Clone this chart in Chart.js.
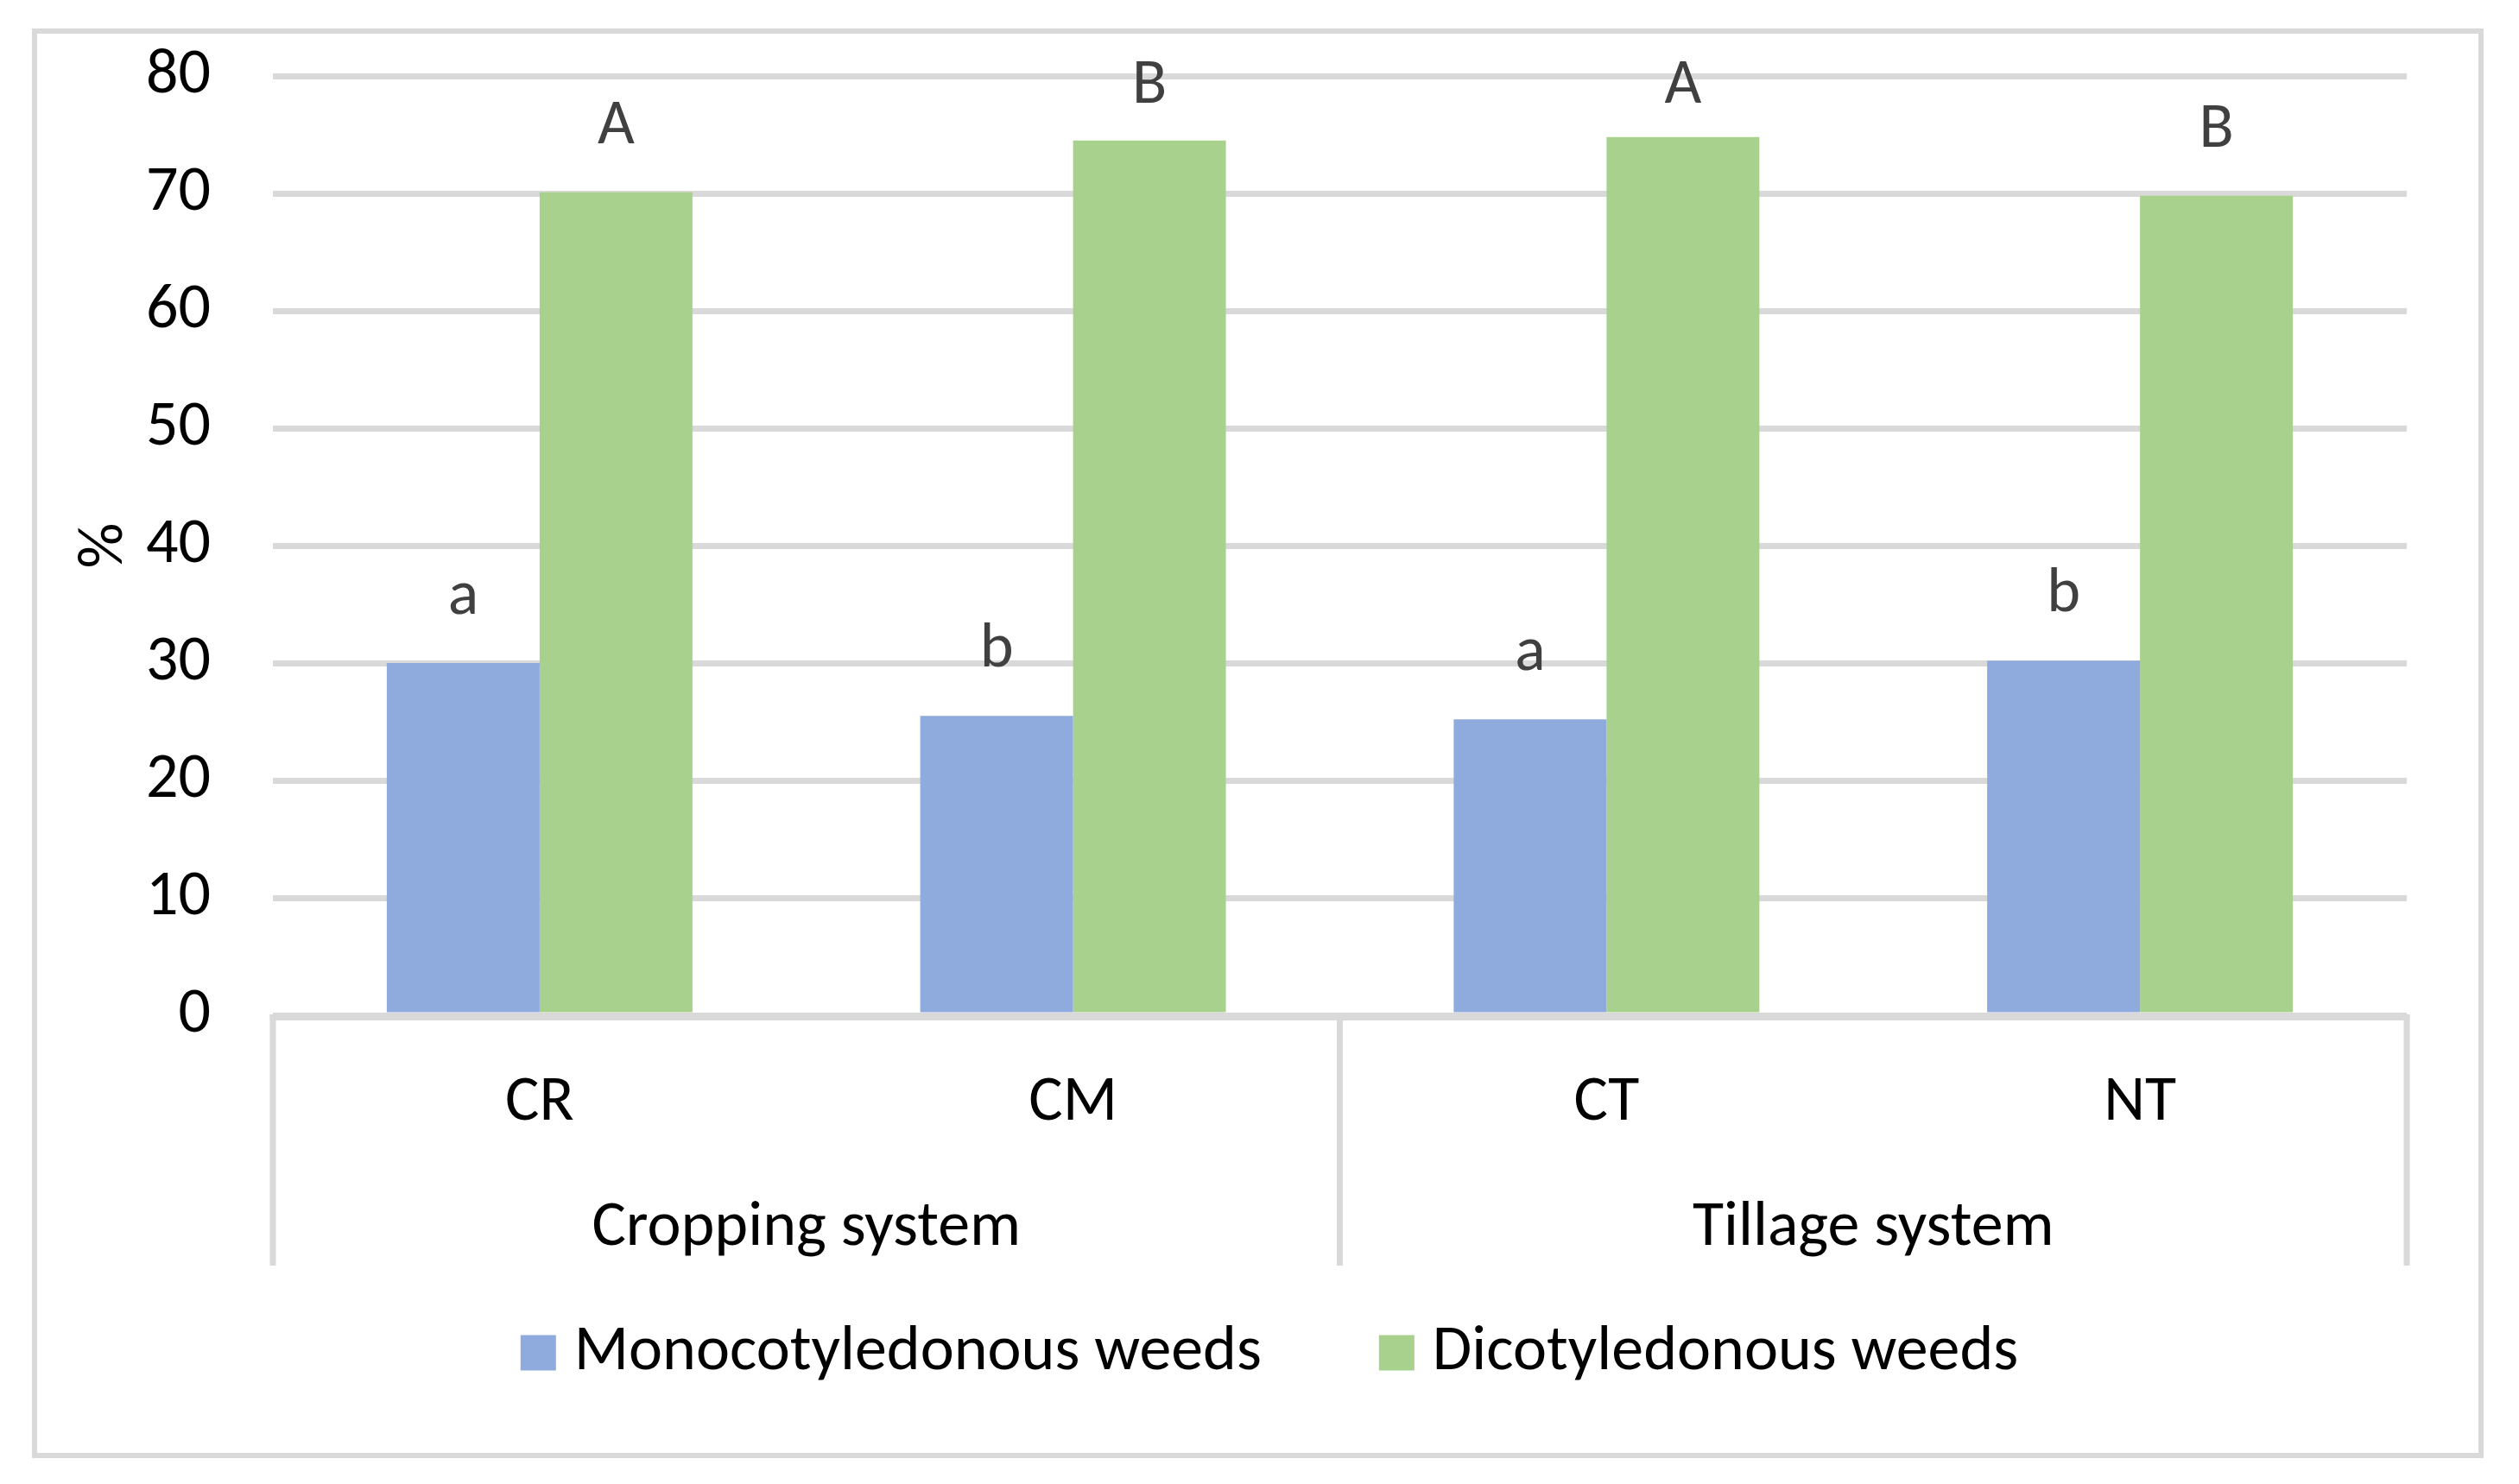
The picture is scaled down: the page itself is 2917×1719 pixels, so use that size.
<!DOCTYPE html>
<html>
<head>
<meta charset="utf-8">
<script src="https://cdn.jsdelivr.net/npm/chart.js@4.4.1/dist/chart.umd.min.js"></script>
<style>
  html, body { margin: 0; padding: 0; background: #ffffff; }
  canvas { display: block; }
</style>
</head>
<body>
<canvas id="c" width="2917" height="1719"></canvas>
<script>
// weed share by cropping / tillage system
var categories = ['CR', 'CM', 'CT', 'NT'];
var groups = ['Cropping system', 'Tillage system'];
var groupSpans = [2, 2];
var monoValues = [30.0, 25.5, 25.2, 30.2];
var dicotValues = [70.1, 74.5, 74.8, 69.8];
var monoLetters = ['a', 'b', 'a', 'b'];
var dicotLetters = ['A', 'B', 'A', 'B'];
var seriesNames = ['Monocotyledonous weeds', 'Dicotyledonous weeds'];
var yTicks = [0, 10, 20, 30, 40, 50, 60, 70, 80];

var FONT = 'Carlito, Calibri, Lato, sans-serif';
var FONT_SIZE = 74;
var GRID = '#d9d9d9';
var BLUE = '#8faadc';
var GREEN = '#a9d18e';

function font(size) { return size + 'px ' + FONT; }

// outer frame
var framePlugin = {
  id: 'frame',
  beforeDraw: function (chart) {
    var ctx = chart.ctx;
    ctx.save();
    ctx.fillStyle = '#ffffff';
    ctx.fillRect(0, 0, chart.width, chart.height);
    ctx.strokeStyle = GRID;
    ctx.lineWidth = 6;
    ctx.strokeRect(40, 36, 2833, 1650);
    ctx.restore();
  }
};

// letters above bars (kept inside the plot area, like Excel does)
var letterPlugin = {
  id: 'letters',
  afterDatasetsDraw: function (chart) {
    var ctx = chart.ctx;
    var letterSets = [monoLetters, dicotLetters];
    var minBase = chart.chartArea.top + 31;
    ctx.save();
    ctx.font = font(FONT_SIZE);
    ctx.fillStyle = '#404040';
    ctx.textAlign = 'center';
    ctx.textBaseline = 'alphabetic';
    chart.data.datasets.forEach(function (ds, di) {
      chart.getDatasetMeta(di).data.forEach(function (bar, i) {
        ctx.fillText(letterSets[di][i], bar.x, Math.max(bar.y - 57, minBase));
      });
    });
    ctx.restore();
  }
};

// axis line, group separators, group labels and legend
var groupAxisPlugin = {
  id: 'groupAxis',
  afterDatasetsDraw: function (chart) {
    var ctx = chart.ctx;
    var area = chart.chartArea;
    var x = chart.scales.x;
    var axisY = area.bottom + 2.5;
    var sepBottom = 1466;

    ctx.save();
    ctx.strokeStyle = GRID;
    ctx.lineWidth = 7;
    ctx.beginPath();
    ctx.moveTo(area.left - 3.5, axisY);
    ctx.lineTo(area.right + 3.5, axisY);
    ctx.stroke();

    // boundaries between groups
    var edges = [area.left];
    var idx = 0;
    groupSpans.forEach(function (span) {
      idx += span;
      if (idx >= categories.length) {
        edges.push(area.right);
      } else {
        edges.push((x.getPixelForValue(idx - 1) + x.getPixelForValue(idx)) / 2);
      }
    });
    edges.forEach(function (ex) {
      ctx.beginPath();
      ctx.moveTo(ex, axisY - 3.5);
      ctx.lineTo(ex, sepBottom);
      ctx.stroke();
    });

    ctx.font = font(FONT_SIZE);
    ctx.fillStyle = '#000000';
    ctx.textAlign = 'center';
    ctx.textBaseline = 'middle';
    groups.forEach(function (g, gi) {
      ctx.fillText(g, (edges[gi] + edges[gi + 1]) / 2, 1423);
    });

    // legend
    var box = 41, gap = 21, spacing = 136;
    var widths = chart.data.datasets.map(function (ds) {
      return box + gap + ctx.measureText(ds.label).width;
    });
    var total = widths.reduce(function (a, b) { return a + b; }, 0) + spacing * (widths.length - 1);
    var lx = 1470 - total / 2;
    var ly = 1567;
    ctx.textAlign = 'left';
    chart.data.datasets.forEach(function (ds, di) {
      ctx.fillStyle = ds.backgroundColor;
      ctx.fillRect(lx, ly - box / 2, box, box);
      ctx.fillStyle = '#000000';
      ctx.fillText(ds.label, lx + box + gap, ly);
      lx += widths[di] + spacing;
    });
    ctx.restore();
  }
};

new Chart(document.getElementById('c'), {
  type: 'bar',
  data: {
    labels: categories,
    datasets: [
      { label: seriesNames[0], data: monoValues, backgroundColor: BLUE },
      { label: seriesNames[1], data: dicotValues, backgroundColor: GREEN }
    ]
  },
  options: {
    responsive: false,
    animation: false,
    devicePixelRatio: 1,
    categoryPercentage: 0.573,
    barPercentage: 1,
    layout: { padding: { left: 27, right: 130, top: 88, bottom: 253 } },
    scales: {
      x: {
        grid: { display: false, drawTicks: false },
        border: { display: false },
        ticks: { color: '#000000', font: { family: FONT, size: FONT_SIZE }, padding: 58, maxRotation: 0 },
        afterFit: function (s) {
          s.height = 290;
          s.paddingLeft = 0;
          s.paddingRight = 0;
        }
      },
      y: {
        min: 0,
        max: 80,
        afterBuildTicks: function (s) {
          s.ticks = yTicks.map(function (v) { return { value: v }; });
        },
        grid: { color: GRID, lineWidth: 7, drawTicks: false },
        border: { display: false },
        ticks: { color: '#000000', font: { family: FONT, size: FONT_SIZE }, padding: 72 },
        title: {
          display: true,
          text: '%',
          color: '#000000',
          font: { family: FONT, size: FONT_SIZE },
          padding: { top: 51, bottom: 0 }
        },
        afterFit: function (s) {
          s.width = 289;
          s.paddingTop = 0;
          s.paddingBottom = 0;
        }
      }
    },
    plugins: {
      legend: { display: false },
      tooltip: { enabled: false }
    }
  },
  plugins: [framePlugin, letterPlugin, groupAxisPlugin]
});
</script>
</body>
</html>
